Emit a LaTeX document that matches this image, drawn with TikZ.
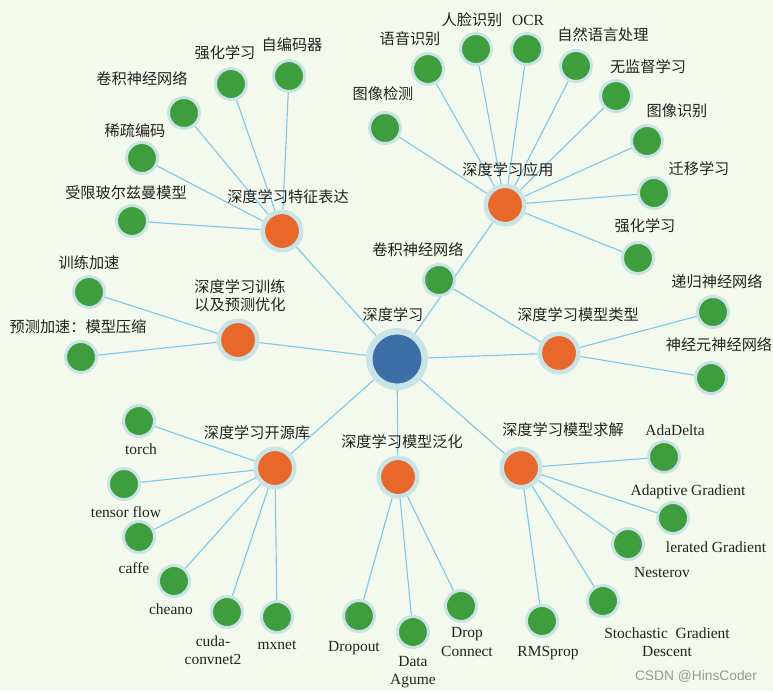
\documentclass[tikz,border=0pt]{standalone}
\usepackage{fontspec}
\setmainfont{Liberation Serif}
\newfontfamily\cjk{Noto Sans CJK SC}
\newfontfamily\wmfont{Liberation Sans}
\usetikzlibrary{backgrounds}

\definecolor{bgC}{HTML}{F4F9EE}
\definecolor{haloC}{HTML}{C8E4E6}
\definecolor{rootC}{HTML}{3C6EA8}
\definecolor{hubC}{HTML}{E8672A}
\definecolor{leafC}{HTML}{3E9E3E}
\definecolor{edgeC}{HTML}{7EC8EA}
\definecolor{txtC}{HTML}{222222}

\begin{document}
\begin{tikzpicture}[x=0.025cm,y=-0.025cm,
	rootnode/.style={circle,fill=rootC,draw=haloC,line width=4.6pt,inner sep=0pt,minimum size=1.39cm},
	hubnode/.style={circle,fill=hubC,draw=haloC,line width=3.2pt,inner sep=0pt,minimum size=0.96cm},
	leafnode/.style={circle,fill=leafC,draw=haloC,line width=2.1pt,inner sep=0pt,minimum size=0.775cm},
	edge/.style={draw=edgeC,line width=0.8pt},
	zh/.style={text=txtC,inner sep=0pt,font=\cjk\fontsize{10.8}{13}\selectfont},
	en/.style={text=txtC,inner sep=0pt,align=center,font=\fontsize{11}{13.2}\selectfont}]
	\useasboundingbox (0,0) rectangle (773,691);

	%Root
	\node[rootnode] at (397,359) (dl) {};
	\node[zh] at (393,315) (dl-l) {深度学习};

	%Hubs
	\node[hubnode] at (282,231) (feat) {};
	\node[zh] at (288,197) (feat-l) {深度学习特征表达};
	\node[hubnode] at (505,205) (app) {};
	\node[zh] at (508,170) (app-l) {深度学习应用};
	\node[hubnode] at (238,340) (train) {};
	\node[zh,align=center] at (240,296) (train-l) {深度学习训练\\以及预测优化};
	\node[hubnode] at (559,353) (mtype) {};
	\node[zh] at (578,315) (mtype-l) {深度学习模型类型};
	\node[hubnode] at (275,468) (lib) {};
	\node[zh] at (257,433) (lib-l) {深度学习开源库};
	\node[hubnode] at (398,477) (gen) {};
	\node[zh] at (402,442) (gen-l) {深度学习模型泛化};
	\node[hubnode] at (521,468) (solve) {};
	\node[zh] at (563,430) (solve-l) {深度学习模型求解};

	%Feature learning
	\node[leafnode] at (289,76) (f1) {};
	\node[zh] at (292,45) (f1-l) {自编码器};
	\node[leafnode] at (231,84) (f2) {};
	\node[zh] at (225,53) (f2-l) {强化学习};
	\node[leafnode] at (184,113) (f3) {};
	\node[zh] at (142,79) (f3-l) {卷积神经网络};
	\node[leafnode] at (142,158) (f4) {};
	\node[zh] at (135,131) (f4-l) {稀疏编码};
	\node[leafnode] at (132,221) (f5) {};
	\node[zh] at (126,193) (f5-l) {受限玻尔兹曼模型};

	%Applications
	\node[leafnode] at (385,128) (a1) {};
	\node[zh] at (383,94) (a1-l) {图像检测};
	\node[leafnode] at (428,69) (a2) {};
	\node[zh] at (410,39) (a2-l) {语音识别};
	\node[leafnode] at (476,49) (a3) {};
	\node[zh] at (472,20) (a3-l) {人脸识别};
	\node[leafnode] at (527,49) (a4) {};
	\node[en] at (528,20) (a4-l) {OCR};
	\node[leafnode] at (576,66) (a5) {};
	\node[zh] at (603,35) (a5-l) {自然语言处理};
	\node[leafnode] at (616,96) (a6) {};
	\node[zh] at (648,67) (a6-l) {无监督学习};
	\node[leafnode] at (647,141) (a7) {};
	\node[zh] at (677,111) (a7-l) {图像识别};
	\node[leafnode] at (654,193) (a8) {};
	\node[zh] at (699,169) (a8-l) {迁移学习};
	\node[leafnode] at (638,258) (a9) {};
	\node[zh] at (645,226) (a9-l) {强化学习};

	%Training
	\node[leafnode] at (89,292) (t1) {};
	\node[zh] at (89,263) (t1-l) {训练加速};
	\node[leafnode] at (81,357) (t2) {};
	\node[zh] at (78,327) (t2-l) {预测加速：模型压缩};

	%Model types
	\node[leafnode] at (439,280) (m1) {};
	\node[zh] at (418,250) (m1-l) {卷积神经网络};
	\node[leafnode] at (713,312) (m2) {};
	\node[zh] at (717,282) (m2-l) {递归神经网络};
	\node[leafnode] at (711,378) (m3) {};
	\node[zh] at (719,345) (m3-l) {神经元神经网络};

	%Libraries
	\node[leafnode] at (139,421) (l1) {};
	\node[en] at (141,449) (l1-l) {torch};
	\node[leafnode] at (124,484) (l2) {};
	\node[en] at (126,512) (l2-l) {tensor flow};
	\node[leafnode] at (139,537) (l3) {};
	\node[en] at (134,568) (l3-l) {caffe};
	\node[leafnode] at (174,581) (l4) {};
	\node[en] at (171,609) (l4-l) {cheano};
	\node[leafnode] at (227,612) (l5) {};
	\node[en] at (213,650) (l5-l) {cuda-\\convnet2};
	\node[leafnode] at (277,617) (l6) {};
	\node[en] at (277,645) (l6-l) {mxnet};

	%Generalization
	\node[leafnode] at (359,616) (g1) {};
	\node[en] at (354,648) (g1-l) {Dropout};
	\node[leafnode] at (413,632) (g2) {};
	\node[en] at (413,672) (g2-l) {Data\\Agume};
	\node[leafnode] at (461,606) (g3) {};
	\node[en] at (467,642) (g3-l) {Drop\\Connect};

	%Solvers
	\node[leafnode] at (664,457) (s1) {};
	\node[en] at (675,430) (s1-l) {AdaDelta};
	\node[leafnode] at (673,518) (s2) {};
	\node[en] at (688,492) (s2-l) {Adaptive Gradient};
	\node[en] at (716,547) (s2-x) {lerated Gradient};
	\node[leafnode] at (628,544) (s3) {};
	\node[en] at (662,572) (s3-l) {Nesterov};
	\node[leafnode] at (603,601) (s4) {};
	\node[en] at (667,642) (s4-l) {Stochastic\ \ Gradient\\Descent};
	\node[leafnode] at (542,621) (s5) {};
	\node[en] at (548,653) (s5-l) {RMSprop};

	%Watermark
	\node[text=black!40,inner sep=0pt,font=\wmfont\fontsize{9.8}{11}\selectfont] at (696,676) (wm) {CSDN @HinsCoder};

	%Links
	\begin{pgfonlayer}{background}
	\fill[bgC] (0,0) rectangle (773,691);
	\draw[edge] (dl)--(feat) (dl)--(app) (dl)--(train) (dl)--(mtype) (dl)--(lib) (dl)--(gen) (dl)--(solve);
	\draw[edge] (feat)--(f1) (feat)--(f2) (feat)--(f3) (feat)--(f4) (feat)--(f5);
	\draw[edge] (app)--(a1) (app)--(a2) (app)--(a3) (app)--(a4) (app)--(a5) (app)--(a6) (app)--(a7) (app)--(a8) (app)--(a9);
	\draw[edge] (train)--(t1) (train)--(t2);
	\draw[edge] (mtype)--(m1) (mtype)--(m2) (mtype)--(m3);
	\draw[edge] (lib)--(l1) (lib)--(l2) (lib)--(l3) (lib)--(l4) (lib)--(l5) (lib)--(l6);
	\draw[edge] (gen)--(g1) (gen)--(g2) (gen)--(g3);
	\draw[edge] (solve)--(s1) (solve)--(s2) (solve)--(s3) (solve)--(s4) (solve)--(s5);
	\end{pgfonlayer}

\end{tikzpicture}
\end{document}
